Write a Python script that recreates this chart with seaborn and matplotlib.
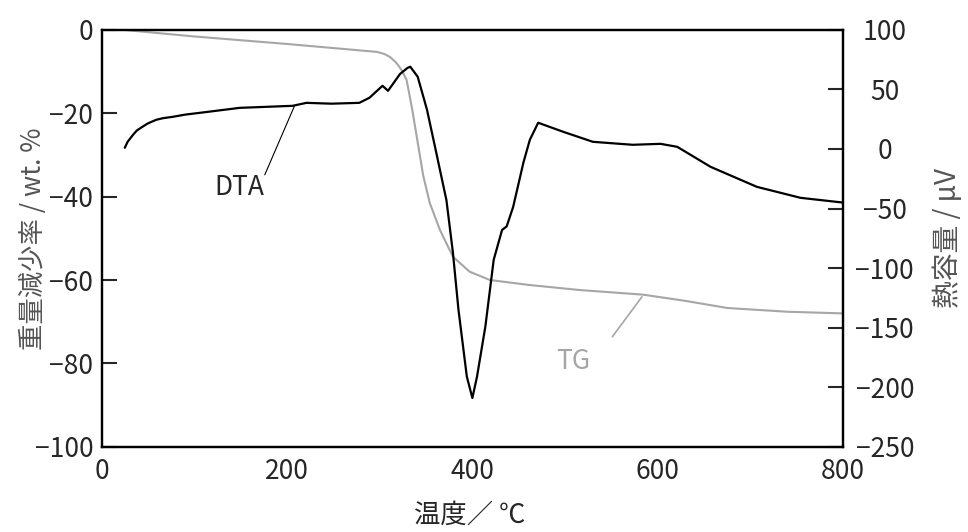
import pandas as pd
import matplotlib
matplotlib.use("Agg")
import matplotlib.pyplot as plt
import seaborn as sns

# TG (weight loss, left axis)
tg_temp = [23, 100, 200, 297, 305, 311, 317, 320, 324, 329, 335, 341, 347,
           354, 365, 379, 397, 419, 462, 516, 584, 630, 675, 740, 800]
tg_val = [0, -1.6, -3.4, -5.3, -5.8, -6.5, -7.7, -8.5, -9.8, -12, -19, -27,
          -35, -41.5, -48, -54.4, -58, -60, -61.2, -62.4, -63.5, -65, -66.7,
          -67.6, -68]

# DTA (right axis, µV)
dta_temp = [25, 28, 34, 38, 44, 50, 59, 66, 77, 90, 113, 149, 206, 221, 248,
            278, 289, 303, 309, 322, 330, 333, 341, 351, 361, 372, 379, 385,
            394, 400, 405, 414, 423, 432, 437, 444, 455, 462, 471, 498, 530,
            573, 603, 621, 657, 707, 754, 800]
dta_val = [1, 6, 12, 15.5, 18.6, 21.5, 24.5, 25.8, 27, 28.8, 31, 34.5, 36.2,
           38.7, 38, 38.7, 43, 53, 48.8, 63, 68, 69, 60.6, 33, -3, -43, -87,
           -135, -191, -209, -191, -149, -93, -68, -65, -48.6, -11.6, 7.7, 22,
           14.4, 6, 3.5, 4.3, 1.8, -15, -31.8, -41, -45]

x_ticks = [0, 200, 400, 600, 800]
tg_ticks = [0, -20, -40, -60, -80, -100]
dta_ticks = [100, 50, 0, -50, -100, -150, -200, -250]

sns.set_style("white")
plt.rcParams['font.family'] = ['Noto Sans CJK JP', 'DejaVu Sans']
plt.rcParams['axes.unicode_minus'] = True

tg = pd.DataFrame({'温度': tg_temp, 'TG': tg_val})
dta = pd.DataFrame({'温度': dta_temp, 'DTA': dta_val})

fig = plt.figure(figsize=(9.68, 5.32), dpi=100)
ax = fig.add_axes([0.105, 0.160, 0.766, 0.784])
ax2 = ax.twinx()

sns.lineplot(data=tg, x='温度', y='TG', ax=ax, color='#a6a6a6',
             linewidth=1.5, sort=False, estimator=None)
sns.lineplot(data=dta, x='温度', y='DTA', ax=ax2, color='black',
             linewidth=1.6, sort=False, estimator=None)

ax.set_xlim(0, 800)
ax.set_ylim(-100, 0)
ax2.set_ylim(-250, 100)
ax.set_xticks(x_ticks)
ax.set_yticks(tg_ticks)
ax2.set_yticks(dta_ticks)

fs = 19
for a in (ax, ax2):
    for s in a.spines.values():
        s.set_linewidth(1.6)
        s.set_color('black')
ax.tick_params(axis='both', direction='in', length=11, width=1.5,
               labelsize=fs, right=False, top=False)
ax.tick_params(axis='x', pad=8)
ax.tick_params(axis='y', pad=6)
ax2.tick_params(axis='y', direction='in', length=11, width=1.5,
                labelsize=fs, pad=30)
for lbl in ax2.get_yticklabels():
    lbl.set_ha('center')

ax.set_xlabel('温度／ ℃', fontsize=19)
ax.set_ylabel('重量減少率 / wt. %', fontsize=19, color='#555555')
ax2.set_ylabel('熱容量 / μV', fontsize=20, color='#555555', rotation=90)
ax.xaxis.set_label_coords(0.497, -0.163)
ax.yaxis.set_label_coords(-0.092, 0.5)
ax2.yaxis.set_label_coords(1.142, 0.5)
ax.xaxis.label.set(va='center', ha='center')
ax.yaxis.label.set(va='center', ha='center')
ax2.yaxis.label.set(va='center', ha='center')

# leader labels
ax2.plot([208, 176], [36, -21.7], color='black', linewidth=0.8)
ax2.text(149, -32.6, 'DTA', fontsize=fs, ha='center', va='center')
ax.plot([583, 551], [-64, -73.6], color='#a6a6a6', linewidth=1.2)
ax.text(509, -79.6, 'TG', fontsize=fs, ha='center', va='center',
        color='#a6a6a6')

fig.savefig('out.png', dpi=100)
